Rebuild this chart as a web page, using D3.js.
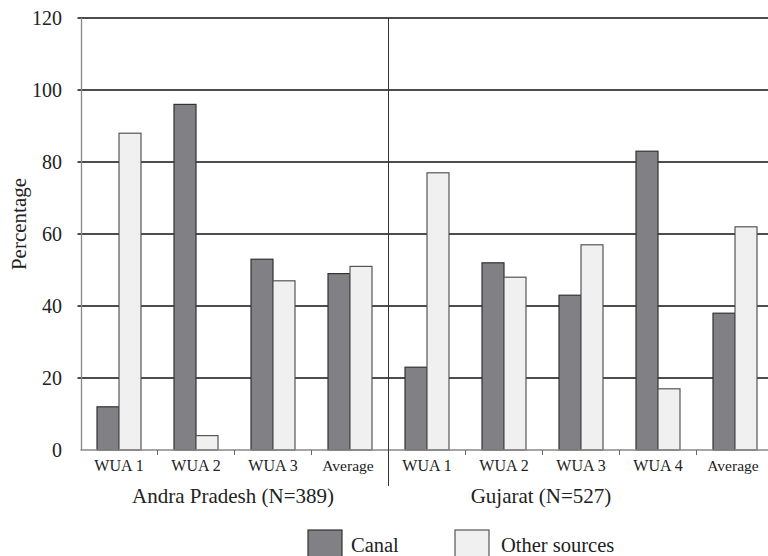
<!DOCTYPE html>
<html><head><meta charset="utf-8">
<script src="https://cdn.jsdelivr.net/npm/d3@7"></script>
<style>body{margin:0;background:#fff}svg{display:block}</style>
</head><body><svg id="c" width="768" height="556"></svg>
<script>
const categories = ["WUA 1","WUA 2","WUA 3","Average","WUA 1","WUA 2","WUA 3","WUA 4","Average"];
const groups = ["Andra Pradesh (N=389)","Gujarat (N=527)"];
const canal = [12,96,53,49,23,52,43,83,38];
const other = [88,4,47,51,77,48,57,17,62];
const seriesNames = ["Canal","Other sources"];
const yTicks = [0,20,40,60,80,100,120];

const FF = '"Liberation Serif"';
const svg = d3.select("#c");
const L = 80.5, T = 18, B = 450, step = 77;
const x = d3.scaleBand().domain(d3.range(categories.length)).range([L, L + step*categories.length]).paddingInner(0).paddingOuter(0);
const y = d3.scaleLinear().domain([0,120]).range([B, T]);
const colors = ["#808085","#f0f0f0"];
const strokes = ["#333","#555"];

svg.append("g").selectAll("line").data(yTicks.filter(d=>d>0)).join("line")
  .attr("x1", L-3).attr("x2", 768).attr("y1", d=>y(d)).attr("y2", d=>y(d))
  .attr("stroke","#111").attr("stroke-width",1.3);

const bw = 22;
const bg = svg.append("g");
categories.forEach((c,i)=>{
  const cx = x(i) + x.bandwidth()/2;
  [canal[i], other[i]].forEach((v,s)=>{
    bg.append("rect").attr("x", cx - bw + s*bw).attr("y", y(v)).attr("width", bw).attr("height", B - y(v))
      .attr("fill", colors[s]).attr("stroke", strokes[s]).attr("stroke-width",1.2);
  });
});

svg.append("line").attr("x1",L+1).attr("x2",L+1).attr("y1",T).attr("y2",B).attr("stroke","#888").attr("stroke-width",1.3);
svg.append("line").attr("x1",L).attr("x2",768).attr("y1",B).attr("y2",B).attr("stroke","#888").attr("stroke-width",1.3);
svg.append("g").selectAll("line").data(d3.range(1,categories.length)).join("line")
  .attr("x1", d=>x(d)).attr("x2", d=>x(d)).attr("y1",B).attr("y2",B+5).attr("stroke","#666");
svg.append("line").attr("x1",x(4)).attr("x2",x(4)).attr("y1",T).attr("y2",486).attr("stroke","#333").attr("stroke-width",1);

function txt(sel){ return sel.style("font-family", FF).attr("fill","#222"); }

txt(svg.append("g").selectAll("text").data(yTicks).join("text"))
  .attr("x",62).attr("y",d=>y(d)).attr("dy","0.35em").attr("text-anchor","end")
  .style("font-size","20px").text(d=>d);
txt(svg.append("text")).attr("transform","translate(26,224) rotate(-90)").attr("text-anchor","middle")
  .style("font-size","21px").text("Percentage");
txt(svg.append("g").selectAll("text").data(categories).join("text"))
  .attr("x",(d,i)=>x(i)+x.bandwidth()/2 + (d==="Average"?-2:0)).attr("y",470.5).attr("text-anchor","middle")
  .style("font-size",d=>d==="Average"?"15.5px":"16px").text(d=>d);
const gx = [233, 541];
txt(svg.append("g").selectAll("text").data(groups).join("text"))
  .attr("x",(d,i)=>gx[i]).attr("y",502.5).attr("text-anchor","middle").style("font-size","21px").text(d=>d);

const lg = [{x:308, tx:351},{x:455, tx:501}];
seriesNames.forEach((n,s)=>{
  svg.append("rect").attr("x",lg[s].x).attr("y",530).attr("width",34).attr("height",30)
    .attr("fill",colors[s]).attr("stroke",strokes[s]).attr("stroke-width",1.2);
  txt(svg.append("text")).attr("x",lg[s].tx).attr("y",551.5).style("font-size","20.5px").text(n);
});
</script></body></html>
